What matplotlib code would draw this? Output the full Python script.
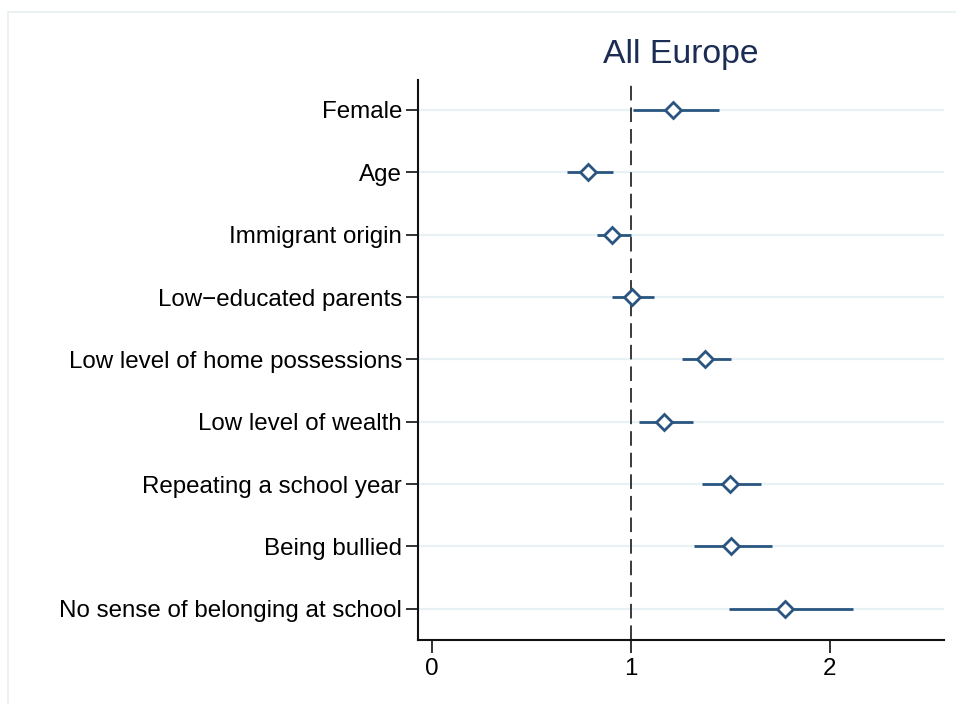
import numpy as np
import matplotlib
matplotlib.use("Agg")
from matplotlib import pyplot as plt
from matplotlib.patches import Rectangle

# Odds ratios with 95% confidence intervals
labels = ["Female", "Age", "Immigrant origin", "Low\u2212educated parents",
          "Low level of home possessions", "Low level of wealth",
          "Repeating a school year", "Being bullied",
          "No sense of belonging at school"]
est = [1.21, 0.785, 0.905, 1.005, 1.374, 1.165, 1.497, 1.501, 1.775]
lo = [1.01, 0.678, 0.828, 0.907, 1.256, 1.039, 1.358, 1.318, 1.492]
hi = [1.444, 0.912, 0.998, 1.116, 1.503, 1.313, 1.651, 1.710, 2.115]
xticks = [0, 1, 2]

plt.rcParams["font.family"] = ["Liberation Sans", "DejaVu Sans"]
navy = "#2a5580"

fig = plt.figure(figsize=(9.56, 7.04), dpi=100)
# faint outer frame like the Stata graph region
fig.patches.append(Rectangle((8 / 956, -0.1), 1.2, 1.1 - 12 / 704,
                             transform=fig.transFigure, fill=False,
                             edgecolor="#e8eff0", linewidth=1.2))

ax = fig.add_axes([418 / 956, 1 - 640 / 704, (944 - 418) / 956, (640 - 80) / 704])

y = np.arange(1, len(labels) + 1)
for yy in y:
    ax.axhline(yy, color="#e8f1f3", lw=1.6, zorder=0)

ax.axvline(1, color="#3a3a3a", lw=1.4, ls=(0, (7.5, 3.6)), zorder=1)
ax.hlines(y, lo, hi, color=navy, lw=2, zorder=2)
ax.plot(est, y, ls="none", marker="D", ms=8, mfc="white", mec=navy, mew=2, zorder=3)

ax.set_xlim(-0.0704, 2.573)
ax.set_ylim(9.5, 0.52)
ax.set_xticks(xticks)
ax.set_xticklabels([str(t) for t in xticks])
ax.set_yticks(y)
ax.set_yticklabels(labels)
ax.tick_params(axis="both", labelsize=17.4, length=9, width=1.3, color="#222222", direction="out")
ax.tick_params(axis="y", pad=2.5)
ax.tick_params(axis="x", pad=4)

for s in ["top", "right"]:
    ax.spines[s].set_visible(False)
for s in ["left", "bottom"]:
    ax.spines[s].set_linewidth(1.5)
    ax.spines[s].set_color("#111111")

ax.set_title("All Europe", fontsize=24.3, color="#1c2d54", pad=12)

fig.savefig("out.png", dpi=100)
